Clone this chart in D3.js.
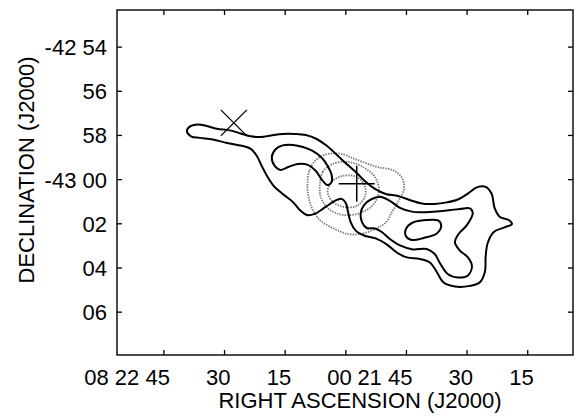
<!DOCTYPE html>
<html>
<head>
<meta charset="utf-8">
<script src="https://cdn.jsdelivr.net/npm/d3@7"></script>
<style>
  body { margin: 0; background: #fff; }
  text { font-family: "Liberation Sans", Arial, Helvetica, sans-serif; fill: #000; }
</style>
</head>
<body>
<script>
// RA in seconds of time relative to 08 22 00 (east = positive, left),
// Dec in arcmin relative to -43 00 (positive = south, down)
const raTicks = [45, 30, 15, 0, -15, -30, -45];
const raLabels = ["08 22 45", "30", "15", "00", "21 45", "30", "15"];
const decTicks = [-6, -4, -2, 0, 2, 4, 6];
const decLabels = ["-42 54", "56", "58", "-43 00", "02", "04", "06"];

// solid contours (lowest level first)
const contourOuter = [
  [39.3,-2.21],[38.3,-2.43],[36.6,-2.50],[34.4,-2.43],[31.9,-2.30],[28.7,-2.23],[26.0,-2.09],
  [23.5,-1.96],[21.0,-1.93],[18.5,-2.00],[15.6,-2.07],[12.6,-2.07],[9.9,-2.02],[7.2,-1.84],
  [4.7,-1.53],[2.2,-1.12],[-0.2,-0.71],[-2.7,-0.30],[-4.9,0.10],[-7.2,0.42],[-9.9,0.65],
  [-12.9,0.74],[-15.8,0.92],[-18.8,1.08],[-22.0,1.10],[-25.0,1.03],[-27.7,0.90],[-30.2,0.63],
  [-32.4,0.35],[-34.6,0.33],[-36.1,0.65],[-36.8,1.28],[-38.1,1.69],[-40.3,1.83],[-41.1,2.01],
  [-39.3,2.16],[-36.6,2.37],[-35.1,2.87],[-34.6,3.46],[-34.4,4.18],[-33.1,4.66],[-30.7,4.81],
  [-27.0,4.84],[-24.2,4.66],[-22.5,4.18],[-20.8,3.75],[-18.3,3.59],[-15.1,3.52],[-12.6,3.30],
  [-10.1,2.93],[-7.4,2.66],[-4.5,2.53],[-2.5,2.32],[-1.2,1.92],[-0.5,1.42],[0.0,1.06],
  [1.0,0.87],[2.7,0.96],[5.2,1.26],[7.7,1.55],[9.6,1.60],[11.4,1.37],[13.1,1.01],[15.6,0.65],
  [17.8,0.29],[19.5,-0.17],[20.8,-0.62],[22.0,-1.07],[23.5,-1.39],[25.7,-1.53],[29.4,-1.66],
  [32.9,-1.82],[36.1,-1.89],[38.3,-1.96]
];
const contourMidWest = [
  [18.3,-1.03],[17.3,-1.39],[15.6,-1.55],[13.1,-1.57],[10.6,-1.48],[8.2,-1.30],[5.9,-0.98],
  [4.5,-0.62],[3.5,-0.21],[3.5,0.10],[4.5,0.24],[5.9,0.01],[7.4,-0.39],[9.4,-0.67],
  [11.9,-0.71],[14.1,-0.58],[16.1,-0.44],[17.6,-0.62]
];
const contourMidEast = [
  [-3.7,1.51],[-4.5,1.15],[-6.2,0.90],[-8.4,0.78],[-10.9,0.96],[-13.4,1.28],[-16.6,1.46],
  [-22.5,1.44],[-28.2,1.33],[-30.7,1.30],[-31.4,1.51],[-29.9,2.07],[-27.9,2.46],[-27.0,2.84],
  [-28.2,3.21],[-30.2,3.52],[-31.2,3.91],[-30.2,4.34],[-27.7,4.43],[-25.2,4.27],[-23.2,3.75],
  [-22.0,3.37],[-20.0,3.14],[-16.6,3.16],[-13.4,2.98],[-10.9,2.69],[-8.9,2.37],[-7.2,2.21],
  [-5.2,2.19],[-4.0,1.92]
];
const contourInner = [
  [-15.0,2.19],[-16.6,1.94],[-19.8,1.83],[-22.8,1.85],[-23.6,2.07],[-22.5,2.44],
  [-19.3,2.64],[-16.3,2.73],[-14.8,2.53]
];

// dotted contours
const dotOuter = [
  [9.5,0.19],[9.0,-0.42],[7.6,-0.85],[5.3,-1.12],[1.5,-1.18],[-2.7,-0.90],[-7.7,-0.58],
  [-11.8,-0.42],[-13.9,-0.08],[-14.4,0.40],[-13.1,0.95],[-11.3,1.50],[-10.0,1.92],[-7.4,2.22],
  [-4.0,2.45],[-0.5,2.46],[3.1,2.20],[6.1,1.88],[8.1,1.40],[9.2,0.80]
];
const dotMid = [
  [6.4,0.19],[5.7,-0.35],[3.2,-0.71],[-0.5,-0.80],[-4.2,-0.58],[-7.2,-0.12],[-8.2,0.51],
  [-6.7,1.15],[-3.5,1.51],[0.7,1.60],[4.2,1.33],[6.2,0.78]
];
const dotInner = [
  [4.5,0.56],[3.5,0.10],[0.7,-0.17],[-2.7,-0.12],[-4.7,0.29],[-4.7,0.78],[-2.7,1.19],
  [0.2,1.24],[3.2,1.01]
];

const crossX = [27.7, -2.57];
const crossPlus = [-2.7, 0.19];

const W = 576, H = 416;
const mLeft = 117, mRight = 573, mTop = 10, mBottom = 355;

const x = d3.scaleLinear().domain([56.6, -56.2]).range([mLeft, mRight]);
const y = d3.scaleLinear().domain([-7.68, 7.94]).range([mTop, mBottom]);

const svg = d3.select("body").append("svg")
  .attr("width", W).attr("height", H);

const line = d3.line()
  .x(d => x(d[0]))
  .y(d => y(d[1]))
  .curve(d3.curveCatmullRomClosed.alpha(0.5));

// dotted contours
[dotOuter, dotMid, dotInner].forEach(c => {
  svg.append("path")
    .attr("d", line(c))
    .attr("fill", "none")
    .attr("stroke", "#777")
    .attr("stroke-width", 1.8)
    .attr("stroke-dasharray", "1.4,1.2");
});

// solid contours
[contourOuter, contourMidWest, contourMidEast, contourInner].forEach(c => {
  svg.append("path")
    .attr("d", line(c))
    .attr("fill", "none")
    .attr("stroke", "#000")
    .attr("stroke-width", 2);
});

// markers
const xs = 13;
svg.append("path")
  .attr("d", `M${x(crossX[0]) - xs},${y(crossX[1]) - xs}L${x(crossX[0]) + xs},${y(crossX[1]) + xs}` +
    `M${x(crossX[0]) + xs},${y(crossX[1]) - xs}L${x(crossX[0]) - xs},${y(crossX[1]) + xs}`)
  .attr("stroke", "#000").attr("stroke-width", 1.3);
const ps = 18;
svg.append("path")
  .attr("d", `M${x(crossPlus[0]) - ps},${y(crossPlus[1])}L${x(crossPlus[0]) + ps},${y(crossPlus[1])}` +
    `M${x(crossPlus[0])},${y(crossPlus[1]) - ps}L${x(crossPlus[0])},${y(crossPlus[1]) + ps}`)
  .attr("stroke", "#000").attr("stroke-width", 1.5);

// frame
svg.append("rect")
  .attr("x", mLeft).attr("y", mTop)
  .attr("width", mRight - mLeft).attr("height", mBottom - mTop)
  .attr("fill", "none").attr("stroke", "#000").attr("stroke-width", 1.4);

// tick marks, inward on all sides
const tl = 5;
raTicks.forEach(t => {
  svg.append("line").attr("x1", x(t)).attr("x2", x(t)).attr("y1", mBottom).attr("y2", mBottom - tl)
    .attr("stroke", "#000").attr("stroke-width", 1.3);
  svg.append("line").attr("x1", x(t)).attr("x2", x(t)).attr("y1", mTop).attr("y2", mTop + tl)
    .attr("stroke", "#000").attr("stroke-width", 1.3);
});
decTicks.forEach(t => {
  svg.append("line").attr("x1", mLeft).attr("x2", mLeft + tl).attr("y1", y(t)).attr("y2", y(t))
    .attr("stroke", "#000").attr("stroke-width", 1.3);
  svg.append("line").attr("x1", mRight).attr("x2", mRight - tl).attr("y1", y(t)).attr("y2", y(t))
    .attr("stroke", "#000").attr("stroke-width", 1.3);
});

// tick labels
svg.selectAll(".xl").data(raTicks).enter().append("text")
  .attr("class", "xl")
  .attr("x", d => x(d) + 6)
  .attr("y", 385)
  .attr("text-anchor", "end")
  .style("font-size", "22px")
  .text((d, i) => raLabels[i]);

svg.selectAll(".yl").data(decTicks).enter().append("text")
  .attr("class", "yl")
  .attr("x", 107)
  .attr("y", d => y(d) + 8)
  .attr("text-anchor", "end")
  .style("font-size", "22px")
  .text((d, i) => decLabels[i]);

// axis titles
svg.append("text")
  .attr("x", 360)
  .attr("y", 408)
  .attr("text-anchor", "middle")
  .style("font-size", "22px")
  .text("RIGHT ASCENSION (J2000)");

svg.append("text")
  .attr("transform", "translate(34,170) rotate(-90)")
  .attr("text-anchor", "middle")
  .style("font-size", "22px")
  .text("DECLINATION (J2000)");
</script>
</body>
</html>
